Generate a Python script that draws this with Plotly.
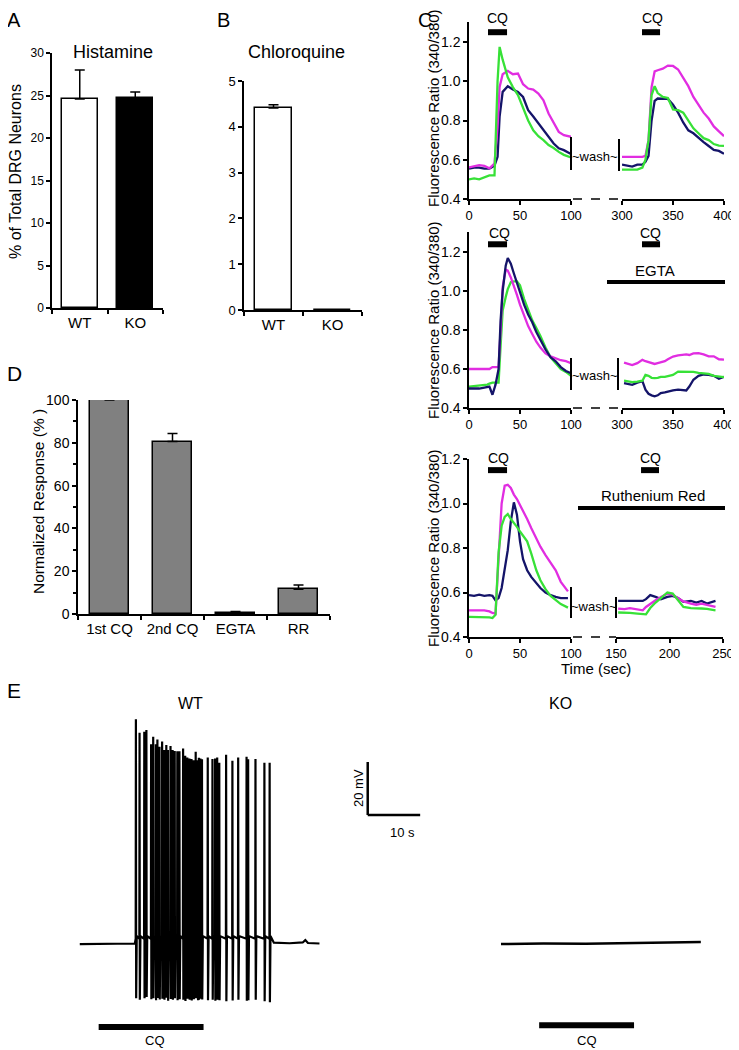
import plotly.graph_objects as go

# the page body adds an 8px margin, so the figure is drawn 8px smaller and all
# reference pixel positions are shifted by that amount
OFF = 8
W, H = 739 - OFF, 1050 - OFF
FONT = "Arial, Liberation Sans, sans-serif"
MAG = "rgb(225,45,225)"
NAVY = "rgb(20,20,105)"
GRN = "rgb(55,225,55)"


def fx(p):
    return (p - OFF) / W


def fy(p):
    return 1 - (p - OFF) / H


# ---- A / B : % of DRG neurons responding
geno = ["WT", "KO"]
hist_pct = [24.6, 24.7]
hist_err = [3.4, 0.7]
cq_pct = [4.41, 0.0]
cq_err = [0.07, 0.0]

# ---- D : normalized response
d_cats = ["1st CQ", "2nd CQ", "EGTA", "RR"]
d_vals = [100, 80.6, 0.5, 11.6]
d_err = [0.3, 3.8, 0.7, 1.9]

# ---- C top (time in sec, ratio 340/380)
c1_t1 = [0, 5, 10, 15, 20, 25, 28, 30, 33, 38, 43, 48, 53, 58, 63, 68, 73, 78, 83, 88, 93, 100]
c1_mag1 = [0.561, 0.569, 0.573, 0.569, 0.556, 0.581, 0.768, 0.971, 1.036, 1.053, 1.036, 1.039, 0.985, 0.963, 0.958, 0.937, 0.903, 0.836, 0.785, 0.742, 0.725, 0.717]
c1_nav1 = [0.555, 0.56, 0.56, 0.555, 0.555, 0.57, 0.615, 0.82, 0.946, 0.975, 0.958, 0.946, 0.92, 0.853, 0.82, 0.785, 0.751, 0.717, 0.683, 0.658, 0.649, 0.629]
c1_grn1 = [0.50, 0.505, 0.50, 0.51, 0.52, 0.52, 1.0, 1.175, 1.11, 1.02, 0.97, 0.93, 0.86, 0.80, 0.75, 0.72, 0.70, 0.675, 0.66, 0.64, 0.625, 0.612]
c1_t2 = [300, 305, 310, 315, 320, 323, 326, 329, 332, 335, 340, 345, 350, 355, 360, 365, 370, 375, 380, 385, 390, 395, 400]
c1_mag2 = [0.615, 0.615, 0.615, 0.615, 0.615, 0.62, 0.70, 0.97, 1.05, 1.056, 1.064, 1.08, 1.078, 1.06, 1.015, 0.975, 0.92, 0.88, 0.84, 0.81, 0.77, 0.745, 0.72]
c1_nav2 = [0.575, 0.57, 0.565, 0.575, 0.575, 0.59, 0.62, 0.80, 0.90, 0.912, 0.912, 0.91, 0.88, 0.84, 0.79, 0.75, 0.735, 0.71, 0.69, 0.67, 0.65, 0.645, 0.63]
c1_grn2 = [0.55, 0.55, 0.55, 0.55, 0.56, 0.60, 0.70, 0.93, 0.975, 0.94, 0.92, 0.915, 0.856, 0.853, 0.84, 0.80, 0.76, 0.735, 0.71, 0.70, 0.68, 0.672, 0.671]

# ---- C middle (EGTA)
c2_t1 = [0, 5, 10, 15, 18, 20, 23, 26, 29, 31, 33, 36, 38, 41, 44, 47, 50, 54, 58, 62, 66, 70, 75, 80, 85, 90, 95, 100]
c2_mag1 = [0.60, 0.60, 0.60, 0.60, 0.60, 0.60, 0.61, 0.61, 0.61, 0.80, 1.02, 1.11, 1.105, 1.07, 1.03, 0.98, 0.93, 0.87, 0.82, 0.78, 0.74, 0.71, 0.68, 0.665, 0.655, 0.645, 0.64, 0.63]
c2_nav1 = [0.50, 0.50, 0.50, 0.505, 0.51, 0.51, 0.468, 0.52, 0.60, 0.85, 1.0, 1.13, 1.17, 1.14, 1.09, 1.04, 0.99, 0.93, 0.88, 0.84, 0.79, 0.75, 0.70, 0.66, 0.64, 0.61, 0.59, 0.578]
c2_grn1 = [0.51, 0.512, 0.515, 0.518, 0.52, 0.525, 0.53, 0.53, 0.53, 0.72, 0.90, 0.97, 1.01, 1.045, 1.05, 1.05, 1.03, 0.96, 0.90, 0.85, 0.81, 0.77, 0.71, 0.66, 0.63, 0.60, 0.585, 0.565]
c2_t2 = [302, 306, 310, 315, 320, 323, 326, 329, 332, 335, 338, 342, 345, 350, 355, 360, 363, 366, 370, 375, 380, 385, 390, 395, 400]
c2_mag2 = [0.633, 0.625, 0.62, 0.63, 0.647, 0.64, 0.635, 0.63, 0.626, 0.63, 0.635, 0.64, 0.65, 0.664, 0.67, 0.674, 0.675, 0.672, 0.68, 0.681, 0.675, 0.665, 0.665, 0.65, 0.648]
c2_nav2 = [0.528, 0.524, 0.519, 0.53, 0.538, 0.494, 0.473, 0.465, 0.46, 0.465, 0.477, 0.48, 0.485, 0.49, 0.494, 0.49, 0.49, 0.51, 0.545, 0.565, 0.572, 0.57, 0.565, 0.55, 0.56]
c2_grn2 = [0.54, 0.535, 0.533, 0.535, 0.54, 0.57, 0.565, 0.555, 0.553, 0.555, 0.56, 0.56, 0.565, 0.57, 0.587, 0.587, 0.585, 0.585, 0.585, 0.58, 0.578, 0.575, 0.565, 0.562, 0.558]

# ---- C bottom (Ruthenium Red)
c3_t1 = [0, 5, 10, 15, 20, 23, 26, 29, 32, 35, 38, 41, 44, 47, 50, 53, 57, 61, 66, 70, 75, 80, 85, 90, 97]
c3_mag1 = [0.52, 0.52, 0.52, 0.52, 0.515, 0.508, 0.505, 0.75, 1.0, 1.08, 1.084, 1.07, 1.04, 1.02, 0.994, 0.97, 0.93, 0.89, 0.84, 0.806, 0.768, 0.731, 0.70, 0.648, 0.605]
c3_nav1 = [0.588, 0.585, 0.59, 0.585, 0.588, 0.585, 0.565, 0.575, 0.62, 0.70, 0.79, 0.92, 1.005, 0.95, 0.83, 0.75, 0.70, 0.67, 0.64, 0.62, 0.60, 0.588, 0.58, 0.575, 0.575]
c3_grn1 = [0.49, 0.49, 0.49, 0.49, 0.488, 0.485, 0.50, 0.78, 0.90, 0.94, 0.953, 0.93, 0.915, 0.895, 0.874, 0.855, 0.83, 0.776, 0.70, 0.655, 0.615, 0.585, 0.565, 0.548, 0.532]
c3_t2 = [152, 158, 163, 170, 175, 178, 182, 187, 192, 198, 203, 208, 213, 220, 225, 230, 235, 243]
c3_mag2 = [0.528, 0.525, 0.53, 0.525, 0.52, 0.535, 0.55, 0.565, 0.58, 0.595, 0.59, 0.575, 0.56, 0.55, 0.545, 0.55, 0.543, 0.535]
c3_nav2 = [0.562, 0.562, 0.562, 0.562, 0.562, 0.57, 0.588, 0.58, 0.57, 0.58, 0.585, 0.575, 0.558, 0.562, 0.555, 0.562, 0.55, 0.562]
c3_grn2 = [0.51, 0.51, 0.508, 0.505, 0.502, 0.502, 0.53, 0.555, 0.575, 0.60, 0.595, 0.565, 0.535, 0.53, 0.53, 0.528, 0.526, 0.52]

# ---- E : current clamp (time in s, membrane potential relative to rest, mV)
wt_base_t = [0, 8, 10.5, 37, 40, 42.5, 43, 43.5, 45.7]
wt_base_v = [0, 0.3, 0.2, 0.5, 0.3, 0.6, 1.5, 0.4, 0.2]
wt_spike_t = [10.7, 11.4, 12.3, 12.7, 13.6, 14.0, 14.5, 14.8, 15.2, 15.7, 16.1, 16.5, 16.8, 17.3, 17.7,
              18.1, 18.6, 19.0, 19.7, 20.1, 20.5, 20.9, 21.3, 21.7, 22.1, 22.5, 22.7, 23.0, 23.3, 24.4,
              25.3, 25.8, 26.2, 26.6, 27.9, 29.1, 30.2, 31.8, 32.1, 33.5, 35.2, 36.2]
wt_spike_peak = [84.8, 79.7, 80.1, 80.8, 75.4, 78.2, 75.4, 77.2, 74.5, 76.4, 73.2, 75.1, 73.2, 74.7, 73.2,
                 72.9, 72.8, 72.8, 73.8, 71.1, 70.4, 70.0, 69.8, 69.4, 72.6, 69.4, 70.3, 70.0, 69.7, 70.4,
                 69.8, 70.0, 70.4, 68.4, 71.4, 69.2, 70.4, 70.7, 69.7, 69.8, 68.4, 68.4]
wt_spike_trough = [-20.5, -21.0, -20.5, -20.0, -20.8, -20.5, -21.2, -20.4, -20.9, -20.6, -21.0, -20.3, -21.4, -20.7, -21.0,
                   -20.5, -21.2, -20.8, -21.0, -21.5, -20.6, -21.0, -21.3, -20.8, -20.5, -21.2, -21.0, -20.6, -20.9, -21.2,
                   -21.0, -21.4, -21.0, -21.2, -21.6, -21.3, -21.0, -21.4, -21.2, -21.0, -21.6, -22.0]
ko_t = [0, 8, 16, 24, 32, 37.7]
ko_v = [0, 0.2, 0.1, 0.3, 0.4, 0.8]

# stimulus / annotation timing
cq1_win = [18.6, 37.3]
cq2_win = [319.6, 337.3]
cq2_win_rr = [173.4, 190.2]
wt_cq = [3.6, 23.6]
ko_cq = [7.2, 25.1]

fig = go.Figure()

bar_line = dict(color="black", width=1.5)


def err(arr):
    return dict(type="data", array=arr, arrayminus=[0] * len(arr), symmetric=False,
                color="black", thickness=1.5, width=5)


fig.add_trace(go.Bar(x=geno, y=hist_pct, width=0.65, error_y=err(hist_err),
                     marker=dict(color=["white", "black"], line=bar_line), xaxis="x", yaxis="y"))
fig.add_trace(go.Bar(x=geno, y=cq_pct, width=0.63, error_y=err(cq_err),
                     marker=dict(color=["white", "white"], line=bar_line), xaxis="x2", yaxis="y2"))
fig.add_trace(go.Bar(x=d_cats, y=d_vals, width=0.62, error_y=err(d_err),
                     marker=dict(color="rgb(128,128,128)", line=bar_line), xaxis="x9", yaxis="y6"))

c_sets = [
    ("x3", "y3", c1_t1, [c1_nav1, c1_mag1, c1_grn1]),
    ("x4", "y3", c1_t2, [c1_nav2, c1_mag2, c1_grn2]),
    ("x5", "y4", c2_t1, [c2_grn1, c2_mag1, c2_nav1]),
    ("x6", "y4", c2_t2, [c2_nav2, c2_mag2, c2_grn2]),
    ("x7", "y5", c3_t1, [c3_nav1, c3_mag1, c3_grn1]),
    ("x8", "y5", c3_t2, [c3_nav2, c3_mag2, c3_grn2]),
]
mags = (c1_mag1, c1_mag2, c2_mag1, c2_mag2, c3_mag1, c3_mag2)
grns = (c1_grn1, c1_grn2, c2_grn1, c2_grn2, c3_grn1, c3_grn2)
for xa, ya, t, series in c_sets:
    for s in series:
        col = NAVY
        if any(s is m for m in mags):
            col = MAG
        elif any(s is g for g in grns):
            col = GRN
        fig.add_trace(go.Scatter(x=t, y=s, mode="lines", line=dict(color=col, width=2.3),
                                 xaxis=xa, yaxis=ya, hoverinfo="skip"))

# WT trace: baseline points plus each spike (upstroke, peak, trough, recovery)
pts = list(zip(wt_base_t, wt_base_v))
for t, pk, tr in zip(wt_spike_t, wt_spike_peak, wt_spike_trough):
    pts += [(t - 0.04, 2.0), (t, pk), (t + 0.05, tr), (t + 0.16, 3.0)]
pts.sort()
fig.add_trace(go.Scatter(x=[p[0] for p in pts], y=[p[1] for p in pts], mode="lines",
                         line=dict(color="black", width=2.2), xaxis="x10", yaxis="y7"))
fig.add_trace(go.Scatter(x=ko_t, y=ko_v, mode="lines", line=dict(color="black", width=2.5),
                         xaxis="x11", yaxis="y8"))

base = dict(showline=True, linecolor="black", linewidth=1.5, ticks="outside", tickcolor="black",
            tickwidth=1.5, ticklen=4, showgrid=False, zeroline=False, automargin=False,
            tickfont=dict(size=13, color="black", family=FONT))


def ax(**kw):
    d = dict(base)
    d.update(kw)
    return d


hidden = dict(visible=False, showgrid=False, zeroline=False, automargin=False)
ratio_ticks = [0.4, 0.6, 0.8, 1.0, 1.2]
cat_font = dict(size=15, color="black")

layout = dict(
    width=W, height=H, autosize=False,
    margin=dict(l=0, r=0, t=0, b=0, pad=0, autoexpand=False), showlegend=False,
    paper_bgcolor="white", plot_bgcolor="rgba(0,0,0,0)", bargap=0,
    font=dict(family=FONT, color="black"),
    xaxis=ax(domain=[fx(52), fx(163)], anchor="y", type="category", range=[-0.5, 1.5],
             tickson="boundaries", tickangle=0, tickfont=cat_font),
    yaxis=ax(domain=[fy(308), fy(53)], anchor="x", range=[0, 30], dtick=5,
             tickfont=dict(size=12, color="black")),
    xaxis2=ax(domain=[fx(244), fx(362)], anchor="y2", type="category", range=[-0.5, 1.5],
              tickson="boundaries", tickangle=0, tickfont=cat_font),
    yaxis2=ax(domain=[fy(310), fy(81)], anchor="x2", range=[0, 5], dtick=1),
    xaxis3=ax(domain=[fx(469), fx(571)], anchor="y3", range=[0, 100], tickvals=[0, 50, 100]),
    xaxis4=ax(domain=[fx(622), fx(724)], anchor="y3", range=[300, 400], tickvals=[300, 350, 400]),
    yaxis3=ax(domain=[fy(199), fy(22)], anchor="x3", range=[0.4, 1.302], tickvals=ratio_ticks,
              tickformat=".1f", tickfont=dict(size=14, color="black")),
    xaxis5=ax(domain=[fx(469), fx(571)], anchor="y4", range=[0, 100], tickvals=[0, 50, 100]),
    xaxis6=ax(domain=[fx(622), fx(724)], anchor="y4", range=[300, 400], tickvals=[300, 350, 400]),
    yaxis4=ax(domain=[fy(408), fy(232)], anchor="x5", range=[0.4, 1.303], tickvals=ratio_ticks,
              tickformat=".1f", tickfont=dict(size=14, color="black")),
    xaxis7=ax(domain=[fx(469), fx(571)], anchor="y5", range=[0, 100], tickvals=[0, 50, 100]),
    xaxis8=ax(domain=[fx(616), fx(723)], anchor="y5", range=[150, 250], tickvals=[150, 200, 250]),
    yaxis5=ax(domain=[fy(637), fy(459)], anchor="x7", range=[0.4, 1.2], tickvals=ratio_ticks,
              tickformat=".1f", tickfont=dict(size=14, color="black")),
    xaxis9=ax(domain=[fx(78), fx(330)], anchor="y6", type="category", range=[-0.5, 3.5],
              tickson="boundaries", tickangle=0, tickfont=cat_font),
    yaxis6=ax(domain=[fy(614), fy(400)], anchor="x9", range=[0, 100], dtick=20,
              minor=dict(ticks="outside", dtick=10, ticklen=3, tickcolor="black", tickwidth=1.5),
              tickfont=dict(size=14, color="black")),
    xaxis10=dict(hidden, domain=[fx(60), fx(440)], anchor="y7", range=[-3.77, 68.68]),
    yaxis7=dict(hidden, domain=[fy(1045), fy(700)], anchor="x10", range=[-38.1, 92.1]),
    xaxis11=dict(hidden, domain=[fx(480), fx(739)], anchor="y8", range=[-3.96, 44.9]),
    yaxis8=dict(hidden, domain=[fy(1045), fy(700)], anchor="x11", range=[-38.1, 92.1]),
)


def seg(x0, y0, x1, y1, xref="paper", yref="paper", w=2, dash=None):
    ln = dict(color="black", width=w)
    if dash:
        ln["dash"] = dash
    return dict(type="line", xref=xref, yref=yref, x0=x0, y0=y0, x1=x1, y1=y1, line=ln)


def pseg(px0, py0, px1, py1, w=2, dash=None):
    return seg(fx(px0), fy(py0), fx(px1), fy(py1), w=w, dash=dash)


shapes = [
    # CQ application bars
    seg(cq1_win[0], 1.25, cq1_win[1], 1.25, "x3", "y3", 6),
    seg(cq2_win[0], 1.25, cq2_win[1], 1.25, "x4", "y3", 6),
    seg(cq1_win[0], 1.24, cq1_win[1], 1.24, "x5", "y4", 6),
    seg(cq2_win[0], 1.24, cq2_win[1], 1.24, "x6", "y4", 6),
    seg(cq1_win[0], 1.15, cq1_win[1], 1.15, "x7", "y5", 6),
    seg(cq2_win_rr[0], 1.15, cq2_win_rr[1], 1.15, "x8", "y5", 6),
    # EGTA / Ruthenium Red bath bars
    pseg(607, 282, 725, 282, w=4),
    pseg(578, 508, 725, 508, w=4),
    # axis breaks
    pseg(573, 199, 622, 199, w=1.5, dash="dash"),
    pseg(573, 408, 622, 408, w=1.5, dash="dash"),
    pseg(573, 637, 616, 637, w=1.5, dash="dash"),
    # wash markers
    pseg(571, 137, 571, 170), pseg(619, 139, 619, 171),
    pseg(571, 358, 571, 390), pseg(618, 358, 618, 390),
    pseg(571, 587, 571, 618), pseg(616, 597, 616, 618),
    # E: CQ bars and scale bar (10 s, 20 mV)
    seg(wt_cq[0], -31.3, wt_cq[1], -31.3, "x10", "y7", 6),
    seg(ko_cq[0], -30.6, ko_cq[1], -30.6, "x11", "y8", 6),
    seg(54.9, 48.7, 54.9, 68.7, "x10", "y7", 2.5),
    seg(54.9, 48.7, 64.9, 48.7, "x10", "y7", 2.5),
]


def ann(text, px, py, size=14, angle=0, yanchor="middle"):
    return dict(text=text, x=fx(px), y=fy(py), xref="paper", yref="paper", showarrow=False,
                textangle=angle, font=dict(size=size, color="black", family=FONT),
                xanchor="center", yanchor=yanchor, borderpad=0)


annotations = [
    ann("A", 14, 8, 20, yanchor="top"), ann("B", 223, 8, 20, yanchor="top"),
    ann("C", 425, 8, 20, yanchor="top"),
    ann("D", 14, 373, 21), ann("E", 14, 690, 21),
    ann("Histamine", 113, 52, 18), ann("Chloroquine", 296, 52, 18),
    ann("% of Total DRG Neurons", 15, 172, 16, -90),
    ann("Normalized Response (%\u00a0)", 38, 502, 15.5, -90),
    ann("Fluorescence Ratio (340/380)", 433, 108, 15, -90),
    ann("Fluorescence Ratio (340/380)", 433, 320, 15, -90),
    ann("Fluorescence Ratio (340/380)", 433, 548, 15, -90),
    ann("CQ", 497, 18, 14), ann("CQ", 652, 18, 14),
    ann("CQ", 499, 233, 14), ann("CQ", 650, 233, 14),
    ann("CQ", 498, 458, 14), ann("CQ", 650, 458, 14),
    ann("EGTA", 655, 270, 15), ann("Ruthenium Red", 653, 495, 15),
    ann("~wash~", 595, 157, 13), ann("~wash~", 595, 375, 13), ann("~wash~", 594, 606, 13),
    ann("Time (sec)", 596, 668, 15),
    ann("WT", 190, 703, 16), ann("KO", 560, 703, 16),
    ann("CQ", 155, 1040, 13), ann("CQ", 587, 1040, 13),
    ann("20 mV", 358, 788, 13, -90), ann("10 s", 402, 832, 13),
]

layout["shapes"] = shapes
layout["annotations"] = annotations
fig.update_layout(**layout)

fig.write_html("out.html")
